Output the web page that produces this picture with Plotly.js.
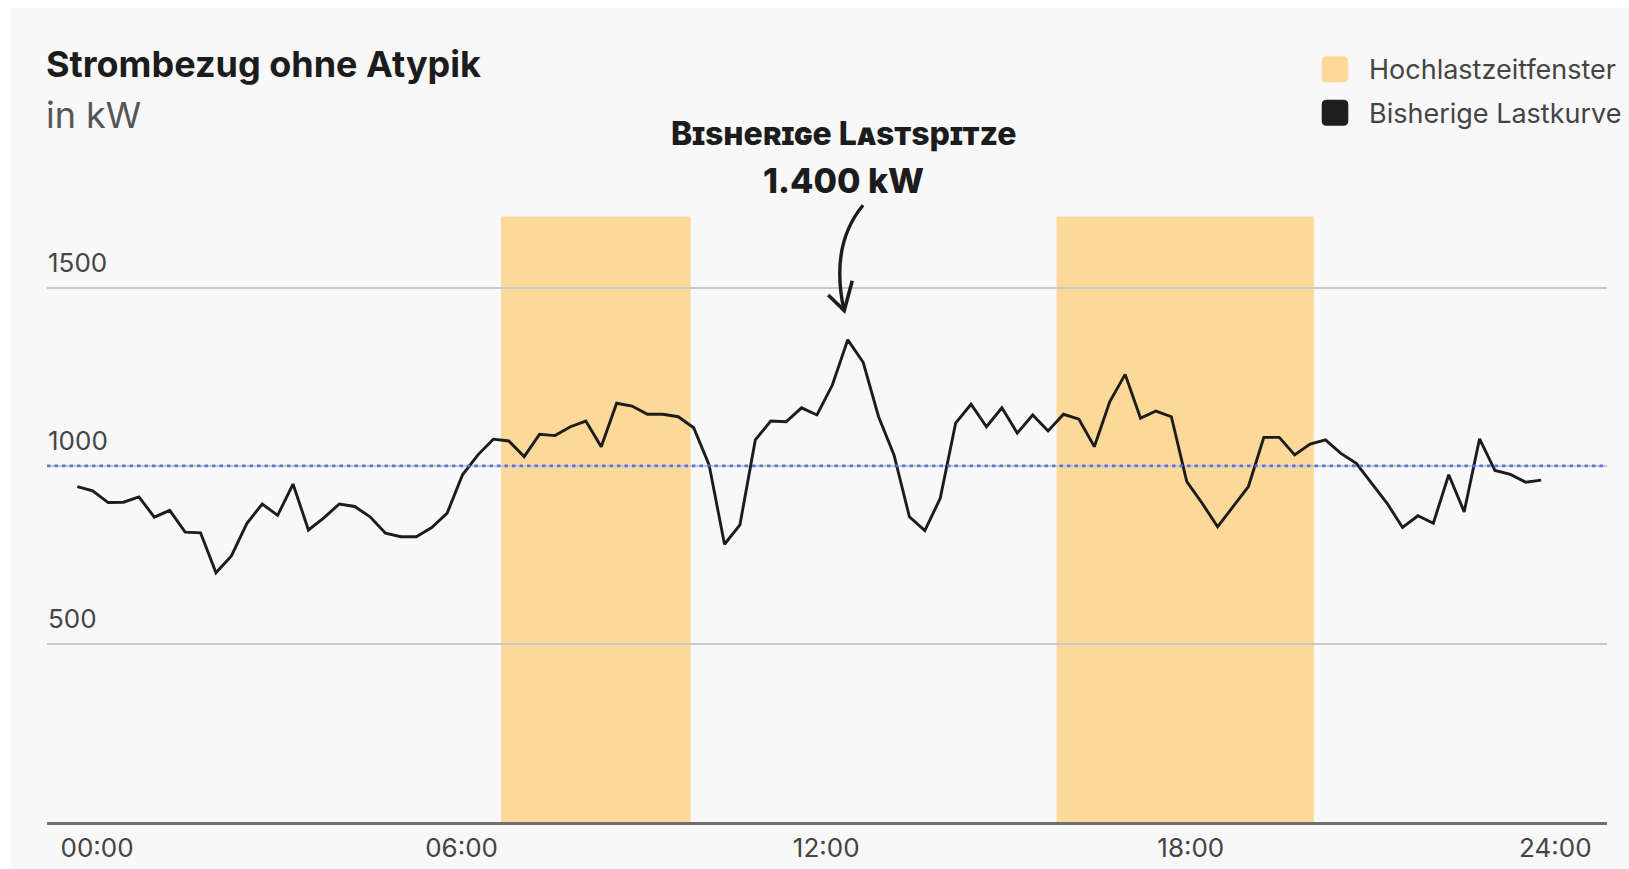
<!DOCTYPE html>
<html>
<head>
<meta charset="utf-8">
<script src="https://cdn.plot.ly/plotly-3.0.1.min.js"></script>
<style>
  html, body { margin: 0; padding: 0; background: #ffffff; overflow: hidden; }
  #chart { position: absolute; left: 11px; top: 8px; width: 1618px; height: 861px; }
</style>
</head>
<body>
<div id="chart"></div>
<script>
// ---- data (15-min samples over one day) ----
const timeLabels = ['00:00', '06:00', '12:00', '18:00', '24:00'];
const yTickValues = [500, 1000, 1500];
const loadKW = [
  942, 930, 897, 898, 913, 856, 875, 814, 812, 700, 747, 838, 893, 861, 949, 820,
  854, 893, 886, 857, 811, 801, 801, 827, 867, 975, 1031, 1075, 1070, 1026, 1089, 1085,
  1110, 1126, 1054, 1176, 1168, 1145, 1145, 1138, 1107, 1003, 780, 834, 1073, 1126, 1124, 1163,
  1143, 1227, 1354, 1291, 1138, 1031, 857, 818, 909, 1120, 1173, 1110, 1163, 1092, 1143, 1098,
  1145, 1131, 1054, 1180, 1257, 1134, 1154, 1138, 956, 895, 829, 886, 942, 1080, 1080, 1031,
  1061, 1073, 1035, 1007, 951, 895, 827, 860, 839, 975, 871, 1076, 987, 976, 954, 960
];
const sampleIndex = loadKW.map((_, i) => i);
// high-load time windows (in sample index units)
const windowStart = [27.5, 63.55];
const windowEnd = [39.8, 80.25];
const windowTop = 1700;
const thresholdKW = 1000;
const peakLabel = ['Bisherige Lastspitze', '1.400 kW'];
const legendLabels = ['Hochlastzeitfenster', 'Bisherige Lastkurve'];
const chartTitle = 'Strombezug ohne Atypik';
const chartUnit = 'in kW';

// ---- layout geometry ----
const W = 1618, H = 861;
const M = { l: 36, r: 22, t: 173, b: 47 };
const PW = W - M.l - M.r, PH = H - M.t - M.b;
const px2paperX = px => (px - M.l) / PW;
const py2paperY = py => (H - M.b - py) / PH;

const YELLOW = '#fcd998';
const INK = '#1c1c1c';
const FONT = 'Inter, "Open Sans", sans-serif';
const YRANGE = [0, 1800];

function roundRectPath(x0, y0, x1, y1, r) {
  const X = px2paperX, Y = py2paperY;
  return 'M' + X(x0 + r) + ',' + Y(y0) +
    ' L' + X(x1 - r) + ',' + Y(y0) +
    ' Q' + X(x1) + ',' + Y(y0) + ' ' + X(x1) + ',' + Y(y0 + r) +
    ' L' + X(x1) + ',' + Y(y1 - r) +
    ' Q' + X(x1) + ',' + Y(y1) + ' ' + X(x1 - r) + ',' + Y(y1) +
    ' L' + X(x0 + r) + ',' + Y(y1) +
    ' Q' + X(x0) + ',' + Y(y1) + ' ' + X(x0) + ',' + Y(y1 - r) +
    ' L' + X(x0) + ',' + Y(y0 + r) +
    ' Q' + X(x0) + ',' + Y(y0) + ' ' + X(x0 + r) + ',' + Y(y0) + ' Z';
}

const shapes = [];
windowStart.forEach((s, k) => {
  shapes.push({
    type: 'rect', xref: 'x', yref: 'y', x0: s, x1: windowEnd[k], y0: 0, y1: windowTop,
    fillcolor: YELLOW, line: { width: 0 }, layer: 'below'
  });
});
shapes.push({
  type: 'line', xref: 'paper', yref: 'y', x0: 0, x1: 1, y0: thresholdKW, y1: thresholdKW,
  line: { color: 'rgba(76,106,230,0.9)', width: 2.8, dash: '3.5px,4px' }, layer: 'above'
});
// hand-drawn style arrow pointing at the peak
shapes.push({
  type: 'path', xref: 'x', yref: 'y',
  path: 'M 50.99,1732 Q 48.84,1620 49.75,1438',
  line: { color: INK, width: 3.4 }, layer: 'above'
});
shapes.push({
  type: 'path', xref: 'x', yref: 'y',
  path: 'M 48.73,1480 L 49.77,1436 L 50.29,1520',
  line: { color: INK, width: 3.6 }, layer: 'above'
});
// legend swatches
const legendColors = [YELLOW, '#1e1e1e'];
const legendCenters = [61.2, 104.7];
legendCenters.forEach((cy, k) => {
  shapes.push({
    type: 'path', xref: 'paper', yref: 'paper',
    path: roundRectPath(1310.7, cy - 13, 1337.3, cy + 13, 5),
    fillcolor: legendColors[k], line: { width: 0 }, layer: 'above'
  });
});

const annotations = [];
legendLabels.forEach((t, k) => {
  annotations.push({
    text: t, xref: 'paper', yref: 'paper', x: px2paperX(1356), y: py2paperY(legendCenters[k] + 0.5),
    xanchor: 'left', yanchor: 'middle', showarrow: false,
    font: { family: FONT, size: 27, color: '#444444' }
  });
});
const peakCenters = [125.3, 172];
peakLabel.forEach((t, k) => {
  annotations.push({
    text: t, xref: 'paper', yref: 'paper', x: px2paperX(832.6), y: py2paperY(peakCenters[k]),
    xanchor: 'center', yanchor: 'middle', showarrow: false,
    font: { family: FONT, size: k === 0 ? 32 : 34, weight: 800, variant: 'small-caps', color: INK }
  });
});

const traces = [{
  type: 'scatter', mode: 'lines', name: legendLabels[1],
  x: sampleIndex, y: loadKW,
  line: { color: INK, width: 2.9 },
  hoverinfo: 'skip', showlegend: false
}, {
  // carrier for the y tick labels drawn at the left edge of the plot
  type: 'scatter', mode: 'lines', x: [], y: [], yaxis: 'y2',
  hoverinfo: 'skip', showlegend: false
}];

const layout = {
  width: W, height: H,
  margin: M,
  paper_bgcolor: '#f8f8f8', plot_bgcolor: '#f8f8f8',
  showlegend: false,
  font: { family: FONT, color: '#444444' },
  title: {
    text: '<span style="font-size:36px">' + chartTitle + '</span><br>' +
          '<span style="font-size:36px;font-weight:400;fill:#555555">' + chartUnit + '</span>',
    font: { family: FONT, size: 39, weight: 700, color: INK },
    xref: 'container', yref: 'container', x: 35 / W, xanchor: 'left',
    y: 1 - 69 / H, yanchor: 'top'
  },
  xaxis: {
    range: [-1.966, 99.27],
    tickvals: timeLabels.map((_, k) => 1.28 + k * 23.66),
    ticktext: timeLabels,
    showgrid: false, zeroline: false, showline: true,
    linecolor: '#6e6e6e', linewidth: 2.5, ticks: '',
    tickfont: { family: FONT, size: 26, color: '#444444' },
    ticklabelstandoff: 1, fixedrange: true
  },
  yaxis: {
    range: YRANGE,
    tickvals: yTickValues,
    showgrid: true, gridcolor: '#c8c8c8', gridwidth: 1.5,
    zeroline: false, showline: false, ticks: '', showticklabels: false,
    fixedrange: true
  },
  yaxis2: {
    overlaying: 'y', anchor: 'free', position: 0, side: 'right',
    range: YRANGE,
    tickvals: yTickValues, ticktext: yTickValues.map(String),
    showgrid: false, zeroline: false, showline: false, ticks: '',
    ticklabelposition: 'outside', ticklabelshift: -25, ticklabelstandoff: 0,
    tickfont: { family: FONT, size: 26, color: '#454545' },
    fixedrange: true
  },
  shapes: shapes,
  annotations: annotations
};

Plotly.newPlot('chart', traces, layout, { displayModeBar: false, staticPlot: true });
</script>
</body>
</html>
